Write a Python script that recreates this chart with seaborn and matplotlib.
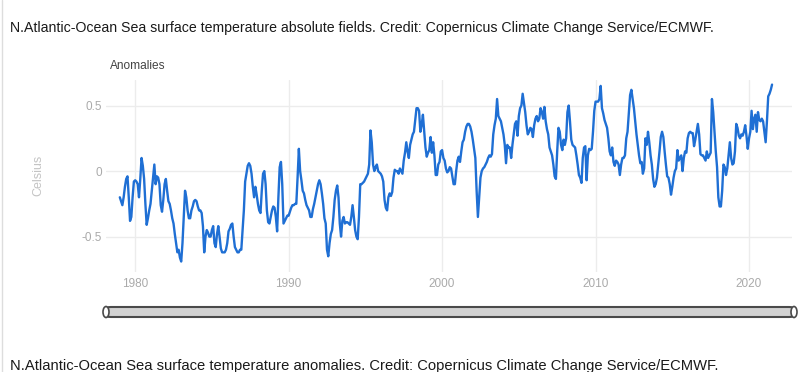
import numpy as np
import pandas as pd
import matplotlib
matplotlib.use("Agg")
import matplotlib.pyplot as plt
from matplotlib.patches import FancyBboxPatch, Ellipse
import seaborn as sns

# ==================== Data: monthly SST anomalies, N. Atlantic (Celsius) ====================
START_MONTH = "1979-01"

anom_1979_1989 = [
    -0.20, -0.23, -0.26, -0.20, -0.12, -0.06, -0.04, -0.20, -0.38, -0.35, -0.20, -0.08,
    -0.07, -0.08, -0.10, -0.20, -0.06, 0.10, 0.04, -0.06, -0.25, -0.41, -0.36, -0.30,
    -0.25, -0.15, -0.05, 0.05, -0.10, -0.04, -0.05, -0.10, -0.26, -0.31, -0.22, -0.10,
    -0.06, -0.15, -0.23, -0.25, -0.30, -0.36, -0.40, -0.48, -0.55, -0.62, -0.60, -0.66,
    -0.69, -0.55, -0.35, -0.15, -0.20, -0.30, -0.36, -0.36, -0.30, -0.27, -0.23, -0.22,
    -0.23, -0.27, -0.30, -0.30, -0.32, -0.42, -0.62, -0.50, -0.45, -0.47, -0.50, -0.50,
    -0.45, -0.42, -0.55, -0.58, -0.48, -0.42, -0.50, -0.59, -0.62, -0.62, -0.62, -0.60,
    -0.55, -0.46, -0.44, -0.41, -0.40, -0.50, -0.58, -0.60, -0.62, -0.62, -0.60, -0.60,
    -0.45, -0.30, -0.08, -0.02, 0.04, 0.06, 0.04, -0.02, -0.12, -0.20, -0.12, -0.18,
    -0.25, -0.30, -0.32, -0.15, -0.02, 0.00, -0.10, -0.30, -0.39, -0.40, -0.35, -0.30,
    -0.27, -0.28, -0.35, -0.46, -0.20, 0.03, 0.07, -0.10, -0.40, -0.38, -0.36, -0.34,
]
anom_1990_1999 = [
    -0.34, -0.31, -0.28, -0.26, -0.26, -0.25, -0.25, -0.05, 0.17, 0.00, -0.07, -0.15,
    -0.17, -0.22, -0.26, -0.28, -0.30, -0.35, -0.35, -0.29, -0.25, -0.20, -0.15, -0.10,
    -0.07, -0.10, -0.17, -0.25, -0.36, -0.40, -0.60, -0.65, -0.55, -0.48, -0.45, -0.35,
    -0.22, -0.15, -0.11, -0.20, -0.40, -0.50, -0.38, -0.35, -0.40, -0.39, -0.39, -0.40,
    -0.41, -0.35, -0.26, -0.35, -0.45, -0.50, -0.52, -0.35, -0.10, -0.10, -0.09, -0.08,
    -0.06, -0.04, -0.02, 0.05, 0.31, 0.22, 0.05, 0.00, 0.03, 0.05, 0.00, -0.01,
    -0.02, -0.04, -0.08, -0.22, -0.28, -0.30, -0.20, -0.17, -0.19, -0.16, -0.05, 0.01,
    0.00, 0.00, -0.02, 0.02, 0.00, -0.02, 0.08, 0.14, 0.22, 0.15, 0.10, 0.20,
    0.24, 0.28, 0.30, 0.39, 0.48, 0.48, 0.46, 0.30, 0.35, 0.43, 0.30, 0.18,
    0.11, 0.14, 0.16, 0.26, 0.14, 0.22, 0.12, -0.03, -0.03, 0.05, 0.07, 0.15,
]
anom_2000_2009 = [
    0.16, 0.10, 0.08, 0.02, -0.01, 0.00, 0.03, 0.02, -0.04, -0.10, -0.10, 0.00,
    0.08, 0.11, 0.07, 0.15, 0.22, 0.24, 0.30, 0.34, 0.36, 0.36, 0.34, 0.30,
    0.24, 0.17, 0.10, -0.15, -0.35, -0.20, -0.05, 0.00, 0.02, 0.03, 0.05, 0.07,
    0.10, 0.12, 0.11, 0.13, 0.28, 0.35, 0.40, 0.55, 0.42, 0.40, 0.38, 0.33,
    0.28, 0.20, 0.06, 0.20, 0.18, 0.18, 0.10, 0.20, 0.28, 0.36, 0.38, 0.27,
    0.42, 0.48, 0.50, 0.59, 0.52, 0.45, 0.35, 0.28, 0.30, 0.33, 0.32, 0.26,
    0.35, 0.40, 0.42, 0.38, 0.40, 0.48, 0.45, 0.40, 0.49, 0.38, 0.32, 0.28,
    0.18, 0.15, 0.12, 0.05, -0.04, -0.06, 0.15, 0.33, 0.30, 0.20, 0.16, 0.24,
    0.20, 0.25, 0.45, 0.50, 0.38, 0.24, 0.20, 0.19, 0.18, 0.12, 0.05, -0.03,
    -0.05, -0.09, 0.10, 0.18, 0.19, -0.07, 0.12, 0.17, 0.16, 0.17, 0.30, 0.46,
]
anom_2010_2021 = [
    0.53, 0.53, 0.53, 0.55, 0.65, 0.48, 0.44, 0.39, 0.36, 0.33, 0.25, 0.15,
    0.12, 0.18, 0.07, 0.04, 0.08, 0.07, 0.05, -0.03, 0.05, 0.10, 0.10, 0.12,
    0.25, 0.30, 0.44, 0.58, 0.62, 0.55, 0.48, 0.38, 0.28, 0.20, 0.12, 0.06,
    0.07, -0.02, 0.02, 0.25, 0.20, 0.30, 0.22, 0.12, 0.05, -0.06, -0.12, -0.10,
    -0.05, 0.05, 0.15, 0.26, 0.30, 0.26, 0.15, 0.05, -0.04, -0.05, -0.10, -0.18,
    -0.12, -0.05, 0.00, 0.02, 0.16, 0.08, 0.10, 0.12, 0.00, 0.10, 0.15, 0.14,
    0.25, 0.29, 0.30, 0.29, 0.29, 0.19, 0.24, 0.30, 0.36, 0.28, 0.13, 0.12,
    0.12, 0.10, 0.08, 0.15, 0.10, 0.12, 0.14, 0.55, 0.45, 0.30, 0.15, 0.03,
    -0.20, -0.27, -0.27, -0.15, 0.05, 0.03, -0.03, 0.02, 0.12, 0.22, 0.10, 0.05,
    0.06, 0.15, 0.36, 0.33, 0.27, 0.25, 0.28, 0.27, 0.30, 0.35, 0.27, 0.17,
    0.25, 0.30, 0.46, 0.32, 0.40, 0.43, 0.30, 0.45, 0.39, 0.38, 0.40, 0.38,
    0.30, 0.22, 0.38, 0.57, 0.59, 0.62, 0.66,
]

YEAR_TICKS = [1980, 1990, 2000, 2010, 2020]
Y_TICKS = [-0.5, 0, 0.5]
Y_TICK_LABELS = ["-0.5", "0", "0.5"]

TITLE_TOP = ("N.Atlantic-Ocean Sea surface temperature absolute fields. "
             "Credit: Copernicus Climate Change Service/ECMWF.")
TITLE_BOTTOM = ("N.Atlantic-Ocean Sea surface temperature anomalies. "
                "Credit: Copernicus Climate Change Service/ECMWF.")

LINE_COLOR = "#1f6fd4"
# ================================================================================

values = anom_1979_1989 + anom_1990_1999 + anom_2000_2009 + anom_2010_2021
dates = pd.date_range(START_MONTH, periods=len(values), freq="MS")
df = pd.DataFrame({
    "year": dates.year + (dates.month - 1) / 12.0,
    "anomaly": values,
})

sns.set_style("whitegrid")
plt.rcParams["font.family"] = ["Liberation Sans", "DejaVu Sans"]

W, H = 800, 372
fig = plt.figure(figsize=(W / 100, H / 100), dpi=100)
fig.patch.set_facecolor("white")

# plot area in pixels: x 106..792, y 80..272
ax = fig.add_axes([106 / W, 1 - 272 / H, (792 - 106) / W, (272 - 80) / H])
sns.lineplot(data=df, x="year", y="anomaly", color=LINE_COLOR, linewidth=1.7, ax=ax)

ax.set_xlim(1978.1, 2022.8)
ax.set_ylim(-0.77, 0.695)
ax.set_xticks(YEAR_TICKS)
ax.set_xticklabels([str(y) for y in YEAR_TICKS])
ax.set_yticks(Y_TICKS)
ax.set_yticklabels(Y_TICK_LABELS)
ax.tick_params(axis="both", length=0, labelsize=8.5, colors="#aaaaaa")
ax.tick_params(axis="y", pad=3)
ax.tick_params(axis="x", pad=4)
ax.grid(True, color="#ececec", linewidth=1.0)
for s in ax.spines.values():
    s.set_visible(False)
ax.set_xlabel("")
ax.set_ylabel("")

# text
fig.text(10 / W, 1 - 28 / H, TITLE_TOP, fontsize=10.2, color="#1a1a1a", va="center", ha="left")
fig.text(110 / W, 1 - 66 / H, "Anomalies", fontsize=8.6, color="#444444", va="center", ha="left")
fig.text(38 / W, 1 - 175 / H, "Celsius", fontsize=9, color="#c4c4c4", rotation=90,
         va="center", ha="center")
fig.text(10 / W, 1 - 366 / H, TITLE_BOTTOM, fontsize=10.6, color="#1a1a1a", va="center", ha="left")

# range slider bar under the chart
bar = FancyBboxPatch((106 / W, 1 - 317 / H), (794 - 106) / W, 10 / H,
                     boxstyle="round,pad=0,rounding_size=0.006",
                     transform=fig.transFigure, facecolor="#d2d2d2",
                     edgecolor="#4a4a4a", linewidth=1.5)
fig.patches.append(bar)
for hx in (106, 794):
    fig.patches.append(Ellipse((hx / W, 1 - 312 / H), 6 / W, 11 / H,
                               transform=fig.transFigure, facecolor="white",
                               edgecolor="#4a4a4a", linewidth=1.2))

# light card border at the left edge
fig.add_artist(plt.Line2D([2 / W, 2 / W], [0, 1], transform=fig.transFigure,
                          color="#dddddd", linewidth=1.0))

fig.savefig("out.png", dpi=100, facecolor="white")
